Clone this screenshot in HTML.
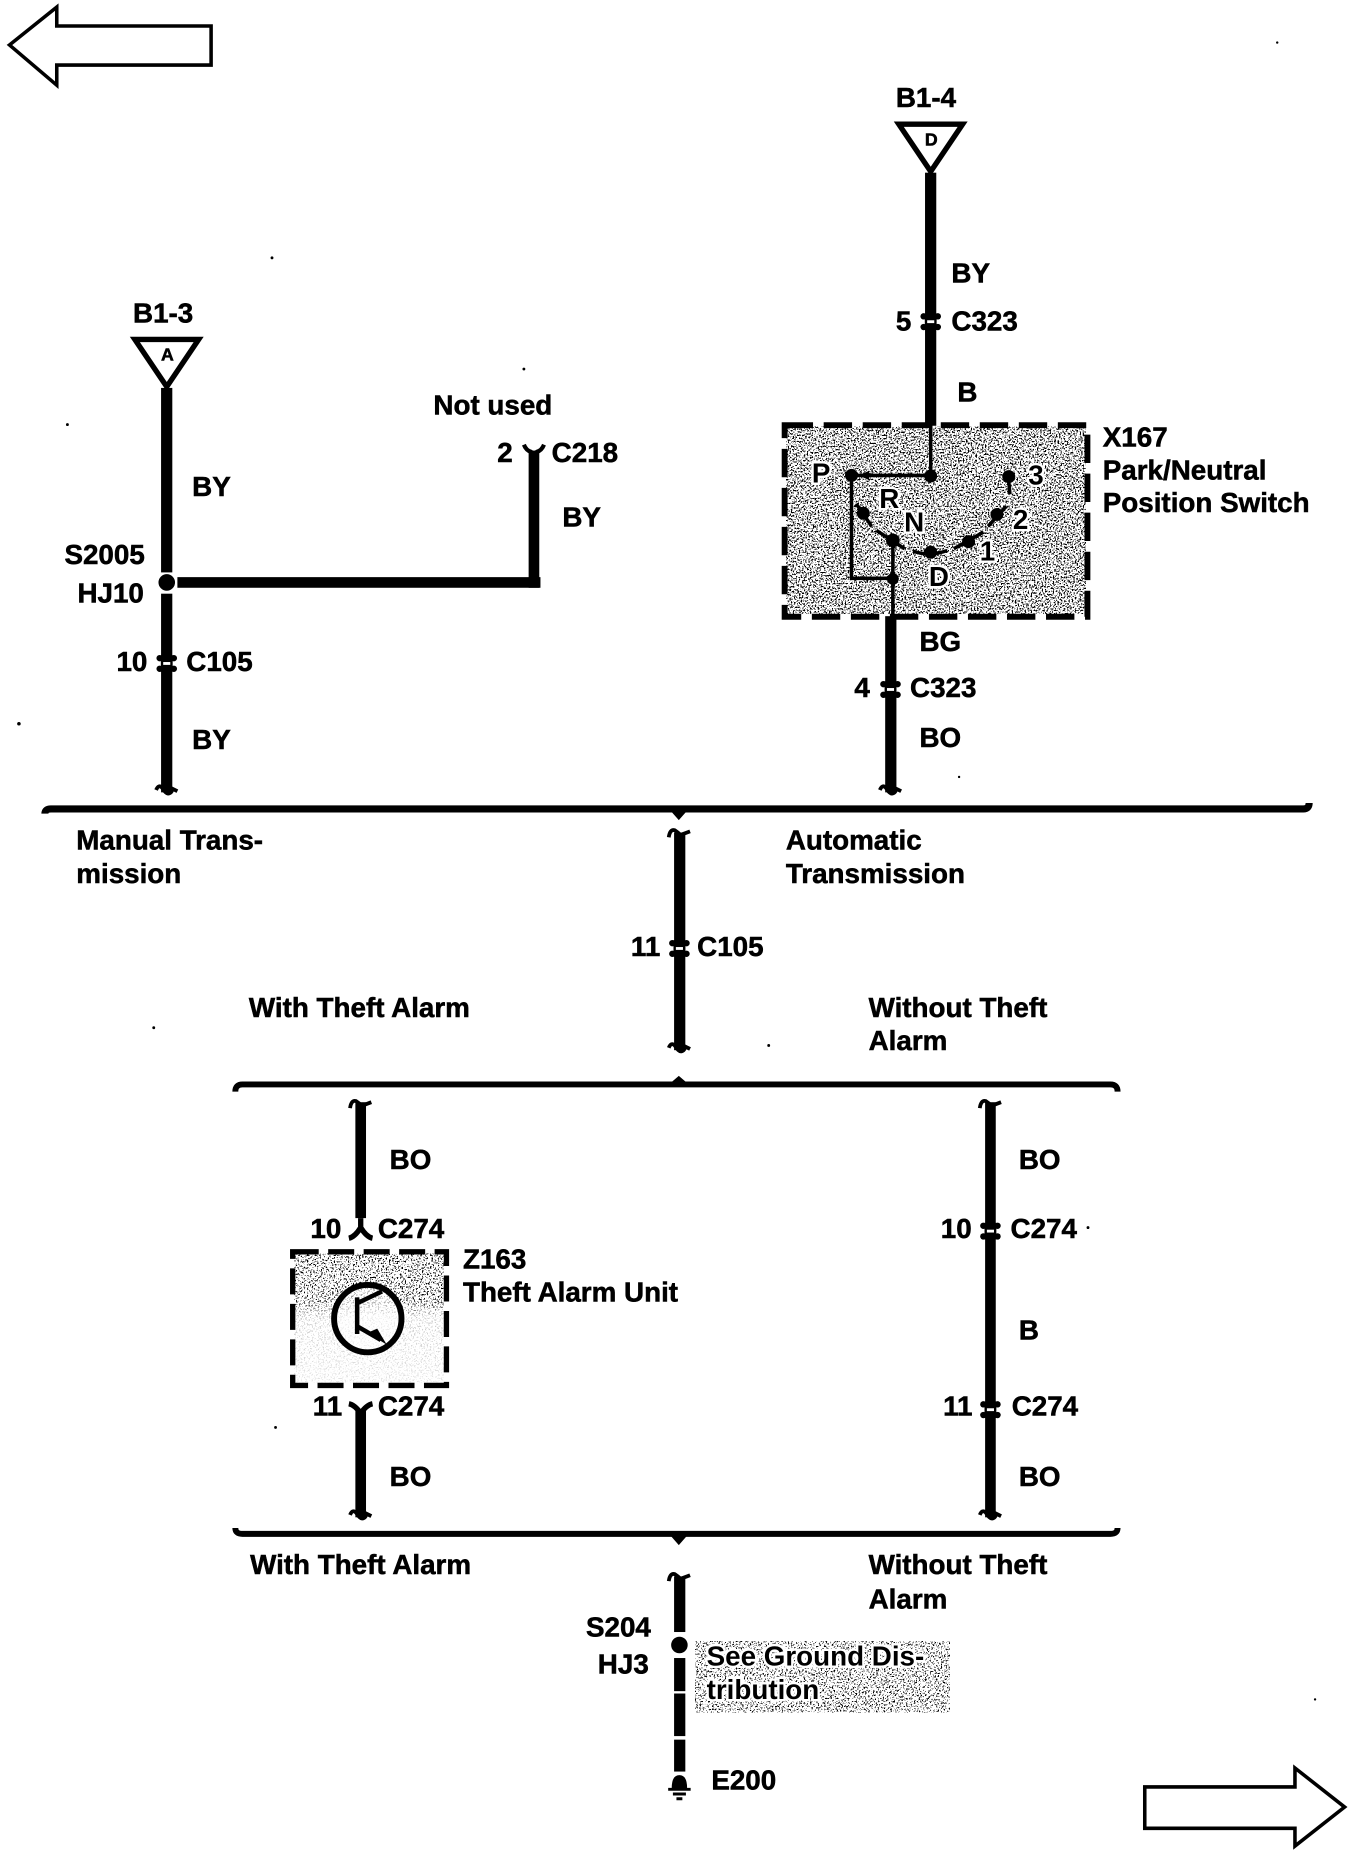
<!DOCTYPE html>
<html lang="en">
<head>
<meta charset="utf-8">
<title>Wiring diagram</title>
<style>
html,body{margin:0;padding:0;background:#fff;width:1360px;height:1852px;overflow:hidden}
svg{display:block}
text{font-family:"Liberation Sans",sans-serif;font-weight:bold;font-size:23.5px;fill:#000;stroke:#000;stroke-width:.45px;transform:translateX(-.5px)}
text.h{stroke:#fff;stroke-width:4px;paint-order:stroke}
</style>
</head>
<body>
<svg width="1360" height="1852" viewBox="0 0 1150 1566" xmlns="http://www.w3.org/2000/svg">
<defs>
<filter id="n" x="0" y="0" width="1" height="1" color-interpolation-filters="sRGB">
<feTurbulence type="fractalNoise" baseFrequency="0.75" numOctaves="2" seed="5"/>
<feColorMatrix values="0 0 0 0 0 0 0 0 0 0 0 0 0 0 0 22 0 0 0 -12"/>
</filter>
<filter id="m" x="0" y="0" width="1" height="1" color-interpolation-filters="sRGB">
<feTurbulence type="fractalNoise" baseFrequency="0.75" numOctaves="2" seed="9"/>
<feColorMatrix values="0 0 0 0 0 0 0 0 0 0 0 0 0 0 0 22 0 0 0 -12.8"/>
</filter>
<linearGradient id="fade" x1="0" y1="0" x2="0" y2="1">
<stop offset="0" stop-color="#fff"/><stop offset=".35" stop-color="#fff"/><stop offset=".5" stop-color="#333"/><stop offset="1" stop-color="#1a1a1a"/>
</linearGradient>
<mask id="fm" maskUnits="userSpaceOnUse" x="247" y="1058" width="130" height="113"><rect x="247" y="1058" width="130" height="113" fill="url(#fade)"/></mask>
<g id="c">
<rect x="-5" y="-7" width="10" height="14" fill="#000"/>
<circle cx="-6" cy="-4.500" r="2.700" fill="#000"/><circle cx="6" cy="-4.500" r="2.700" fill="#000"/>
<circle cx="-6" cy="4.500" r="2.700" fill="#000"/><circle cx="6" cy="4.500" r="2.700" fill="#000"/>
<rect x="-3" y="-1.200" width="6" height="2.400" fill="#fff"/>
</g>
<path id="fb" d="M-9 -2Q-7 -7 -4 -4Q-1 1 1 1Q4 1 5 -3L9 -1" fill="none" stroke="#000" stroke-width="3.200"/>
<path id="ft" d="M-9 4Q-8 -3 -4 -2Q-1 0 1 2L9 -1" fill="none" stroke="#000" stroke-width="3.200"/>
</defs>
<rect width="1150" height="1566" fill="#fff"/>

<!-- page arrows -->
<path d="M8 38L48 6V22H178.500V55H48V72Z" fill="#fff" stroke="#000" stroke-width="3"/>
<path d="M968 1511H1095V1495L1137 1528L1095 1561V1546H968Z" fill="#fff" stroke="#000" stroke-width="3"/>

<!-- left branch -->
<path d="M114 287H168L141 327Z" fill="#fff" stroke="#000" stroke-width="4.500"/>
<text x="142" y="305" text-anchor="middle" style="font-size:15px">A</text>
<text x="113" y="272.600">B1-3</text>
<rect x="136.200" y="328" width="9.500" height="156" fill="#000"/>
<circle cx="141" cy="492.500" r="7" fill="#000"/>
<rect x="136.200" y="502" width="9.500" height="168" fill="#000"/>
<rect x="150" y="488" width="307" height="9" fill="#000"/>
<rect x="447" y="381" width="9" height="116" fill="#000"/>
<path d="M443 376Q445 381 449 382L451.500 384L454 382Q458 381 460 376" fill="none" stroke="#000" stroke-width="3.500"/>
<use href="#fb" x="141" y="670"/>
<use href="#c" x="141" y="561"/>
<text x="367" y="350.500">Not used</text>
<text x="421" y="390.500">2</text>
<text x="467" y="390.500">C218</text>
<text x="163" y="419.500">BY</text>
<text x="476" y="445.400">BY</text>
<text x="55" y="476.800">S2005</text>
<text x="66" y="509.500">HJ10</text>
<text x="99" y="567.500">10</text>
<text x="158" y="567.500">C105</text>
<text x="163" y="633.500">BY</text>

<!-- switch -->
<rect x="665" y="361" width="253" height="158" filter="url(#n)"/>
<rect x="663.500" y="359.500" width="256" height="162" fill="none" stroke="#000" stroke-width="5" stroke-dasharray="24 9"/>
<path d="M760 105H814L787 145Z" fill="#fff" stroke="#000" stroke-width="4.500"/>
<text x="788" y="123" text-anchor="middle" style="font-size:15px">D</text>
<text x="758" y="90.500">B1-4</text>
<rect x="782.200" y="146" width="9.500" height="214" fill="#000"/>
<use href="#c" x="787" y="272"/>
<text class="h" x="687" y="408">P</text>
<text class="h" x="744" y="429.500">R</text>
<text class="h" x="765" y="449.500">N</text>
<text class="h" x="786" y="495.500">D</text>
<text class="h" x="829" y="474">1</text>
<text class="h" x="857" y="447.500">2</text>
<text class="h" x="870" y="409.500">3</text>
<g fill="none" stroke="#000" stroke-width="3">
<path d="M787 358V402H720V489H755V522"/>
<path d="M755 456V489"/>
<path d="M724 426L737 445M741 448.500L765 464M772 466Q786 471 801 465.500M806.500 464L831.500 450M835.500 445L851 428M852.500 402L854 418"/>
</g>
<g fill="#000">
<circle cx="787" cy="402.500" r="5.500"/><circle cx="720" cy="402" r="5.500"/><circle cx="730" cy="434" r="5.500"/>
<circle cx="755" cy="457" r="5.800"/><circle cx="787" cy="467" r="5.500"/><circle cx="819" cy="458" r="5.500"/>
<circle cx="843" cy="435" r="5.500"/><circle cx="853" cy="403" r="5.500"/><circle cx="755" cy="489.500" r="5"/>
<path d="M726 402L735 398V406Z"/>
</g>
<rect x="748.500" y="521" width="9.500" height="149" fill="#000"/>
<use href="#c" x="753" y="583"/>
<use href="#fb" x="753" y="670"/>
<text x="805" y="238.700">BY</text>
<text x="758" y="279.300">5</text>
<text x="805" y="279.300">C323</text>
<text x="810" y="339.600">B</text>
<text x="933" y="377.500">X167</text>
<text x="933" y="405.500">Park/Neutral</text>
<text x="933" y="433">Position Switch</text>
<text x="778" y="550.500">BG</text>
<text x="723" y="589.500">4</text>
<text x="770" y="589.500">C323</text>
<text x="778" y="631.500">BO</text>

<!-- bus 1 -->
<path d="M38 688Q38 684 43 684H1102Q1107 684 1107 679" fill="none" stroke="#000" stroke-width="6"/>
<path d="M567 684L574 692L581 684" fill="#000" stroke="#000" stroke-width="2"/>
<text x="65" y="718.500">Manual Trans-</text>
<text x="65" y="746.500">mission</text>
<text x="665" y="718.500">Automatic</text>
<text x="665" y="746.500">Transmission</text>

<!-- centre wire -->
<rect x="570" y="704" width="9.500" height="184" fill="#000"/>
<use href="#ft" x="574.500" y="704"/>
<use href="#fb" x="574.500" y="888"/>
<use href="#c" x="574.500" y="802"/>
<text x="534" y="808.500">11</text>
<text x="590" y="808.500">C105</text>
<text x="211" y="860">With Theft Alarm</text>
<text x="735" y="860">Without Theft</text>
<text x="735" y="888">Alarm</text>

<!-- bus 2 -->
<path d="M199 923Q199 917 205 917H939Q945 917 945 923" fill="none" stroke="#000" stroke-width="5"/>
<path d="M567 917L574 911L581 917" fill="#000" stroke="#000" stroke-width="2"/>

<!-- theft alarm -->
<rect x="300.500" y="932" width="9" height="98" fill="#000"/>
<use href="#ft" x="305" y="933"/>
<path d="M305 1030V1038M295 1047Q300 1046 305 1038Q310 1046 315 1047" fill="none" stroke="#000" stroke-width="4.500"/>
<rect x="249" y="1060" width="126" height="109" filter="url(#m)" mask="url(#fm)"/>
<rect x="247.500" y="1058.500" width="130" height="113" fill="none" stroke="#000" stroke-width="4.500" stroke-dasharray="22 8"/>
<circle cx="311" cy="1115" r="28.500" fill="#fff" fill-opacity=".6" stroke="#000" stroke-width="5"/>
<path d="M302 1097V1128M302 1102L323 1092M303 1122L322 1133" fill="none" stroke="#000" stroke-width="3.800"/>
<path d="M327 1137L310.500 1127L319 1123.500Z" fill="#000"/>
<path d="M295 1187Q300 1188 305 1195Q310 1188 315 1187" fill="none" stroke="#000" stroke-width="4.500"/>
<rect x="300.500" y="1193" width="9" height="90" fill="#000"/>
<use href="#fb" x="305" y="1283"/>
<text x="330" y="988.500">BO</text>
<text x="263" y="1047">10</text>
<text x="320" y="1047">C274</text>
<text x="392" y="1072.500">Z163</text>
<text x="392" y="1100.500">Theft Alarm Unit</text>
<text x="265" y="1197">11</text>
<text x="320" y="1197">C274</text>
<text x="330" y="1256.500">BO</text>

<!-- right wire -->
<rect x="833" y="932" width="9" height="351" fill="#000"/>
<use href="#ft" x="837.500" y="933"/>
<use href="#fb" x="837.500" y="1283"/>
<use href="#c" x="837.500" y="1041"/>
<use href="#c" x="837.500" y="1192"/>
<text x="862" y="988.500">BO</text>
<text x="796" y="1047">10</text>
<text x="855" y="1047">C274</text>
<text x="862" y="1132.500">B</text>
<text x="798" y="1197">11</text>
<text x="856" y="1197">C274</text>
<text x="862" y="1256.500">BO</text>

<!-- bus 3 -->
<path d="M199 1292Q199 1297 205 1297H939Q945 1297 945 1292" fill="none" stroke="#000" stroke-width="5"/>
<path d="M567 1297L574 1305L581 1297" fill="#000" stroke="#000" stroke-width="2"/>
<text x="212" y="1331">With Theft Alarm</text>
<text x="735" y="1331">Without Theft</text>
<text x="735" y="1360">Alarm</text>

<!-- bottom wire -->
<rect x="570" y="1333" width="9.500" height="47" fill="#000"/>
<use href="#ft" x="574.500" y="1333"/>
<circle cx="574.500" cy="1391" r="7" fill="#000"/>
<rect x="570" y="1402" width="9.500" height="28" fill="#000"/>
<rect x="570" y="1432" width="9.500" height="36" fill="#000"/>
<rect x="570" y="1471" width="9.500" height="27" fill="#000"/>
<path d="M568 1512Q568 1501 574.500 1501Q581 1501 581 1512Z" fill="#000"/>
<path d="M565 1513H584M569 1517H580M572 1521H577" stroke="#000" stroke-width="2.500"/>
<rect x="588" y="1388" width="215" height="60" filter="url(#m)"/>
<text x="496" y="1384">S204</text>
<text x="506" y="1415">HJ3</text>
<text class="h" x="598" y="1408.500">See Ground Dis-</text>
<text class="h" x="598" y="1436.500">tribution</text>
<text x="602" y="1513">E200</text>

<!-- scan specks -->
<g fill="#000">
<circle cx="230" cy="218" r="1.200"/><circle cx="443" cy="312" r="1.200"/><circle cx="57" cy="359" r="1.200"/>
<circle cx="16" cy="612" r="1.500"/><circle cx="1080" cy="36" r="1"/><circle cx="130" cy="869" r="1.200"/>
<circle cx="650" cy="884" r="1.200"/><circle cx="233" cy="1207" r="1.200"/><circle cx="920" cy="1038" r="1.200"/>
<circle cx="811" cy="657" r="1"/><circle cx="1112" cy="1437" r="1"/>
</g>
</svg>
</body>
</html>
